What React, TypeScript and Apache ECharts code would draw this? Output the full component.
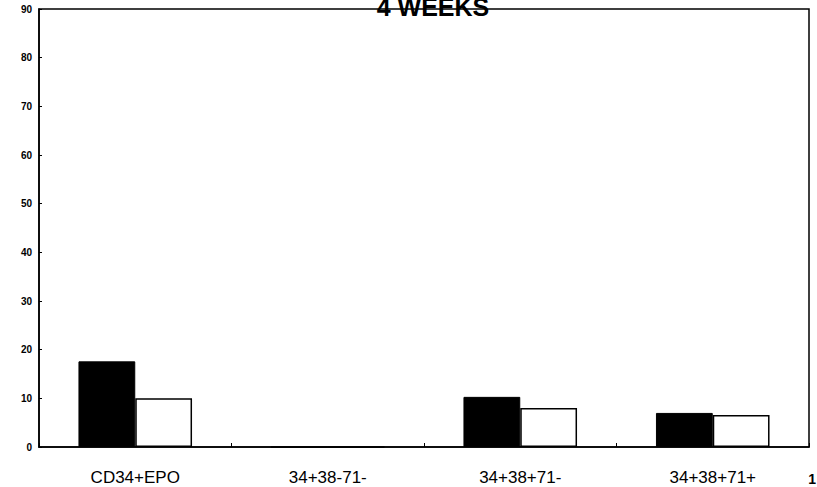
import React, { useEffect, useRef } from "react";
import * as echarts from "echarts";

const categories = ["CD34+EPO", "34+38-71-", "34+38+71-", "34+38+71+"];
const seriesBlack = [17.6, 0, 10.3, 7.0];
const seriesWhite = [10.0, 0, 8.0, 6.6];
const yTicks = { min: 0, max: 90, interval: 10 };

export default function App() {
  const ref = useRef<HTMLDivElement>(null);
  useEffect(() => {
    const chart = echarts.init(ref.current!, null, { renderer: "svg" });
    chart.setOption({
      animation: false,
      backgroundColor: "#ffffff",
      textStyle: { fontFamily: "Liberation Sans" },
      title: {
        text: "4 WEEKS",
        left: 428,
        textAlign: "center",
        top: -11,
        textStyle: { fontSize: 25, fontWeight: "bold", color: "#000", fontFamily: "Liberation Sans" },
      },
      graphic: [
        {
          type: "text",
          right: 1,
          top: 472,
          style: { text: "1", fontSize: 14, fontWeight: "bold", fill: "#000", fontFamily: "Liberation Sans" },
        },
      ],
      grid: {
        left: 39,
        right: 8,
        top: 9,
        bottom: 40,
        show: true,
        borderColor: "#000",
        borderWidth: 1.5,
        backgroundColor: "transparent",
      },
      xAxis: {
        type: "category",
        data: categories,
        axisLine: { lineStyle: { color: "#000", width: 1.5 } },
        axisTick: { show: true, inside: true, length: 4, lineStyle: { color: "#000" } },
        axisLabel: { color: "#000", fontSize: 17, margin: 22, fontFamily: "Liberation Sans" },
        splitLine: { show: false },
      },
      yAxis: {
        type: "value",
        min: yTicks.min,
        max: yTicks.max,
        interval: yTicks.interval,
        axisLine: { show: true, lineStyle: { color: "#000", width: 1.5 } },
        axisTick: { show: true, inside: true, length: 3, lineStyle: { color: "#000" } },
        axisLabel: { color: "#000", fontSize: 10, fontWeight: "bold", margin: 7, fontFamily: "Liberation Sans" },
        splitLine: { show: false },
      },
      series: [
        {
          type: "bar",
          data: seriesBlack,
          barGap: "0%",
          barCategoryGap: "41%",
          itemStyle: { color: "#000", borderColor: "#000", borderWidth: 1 },
        },
        {
          type: "bar",
          data: seriesWhite,
          itemStyle: { color: "#fff", borderColor: "#000", borderWidth: 1.5 },
        },
      ],
    });
    return () => chart.dispose();
  }, []);
  return (
    <div
      ref={ref}
      style={{ position: "fixed", left: 0, top: 0, width: 817, height: 487, background: "#fff" }}
    />
  );
}
